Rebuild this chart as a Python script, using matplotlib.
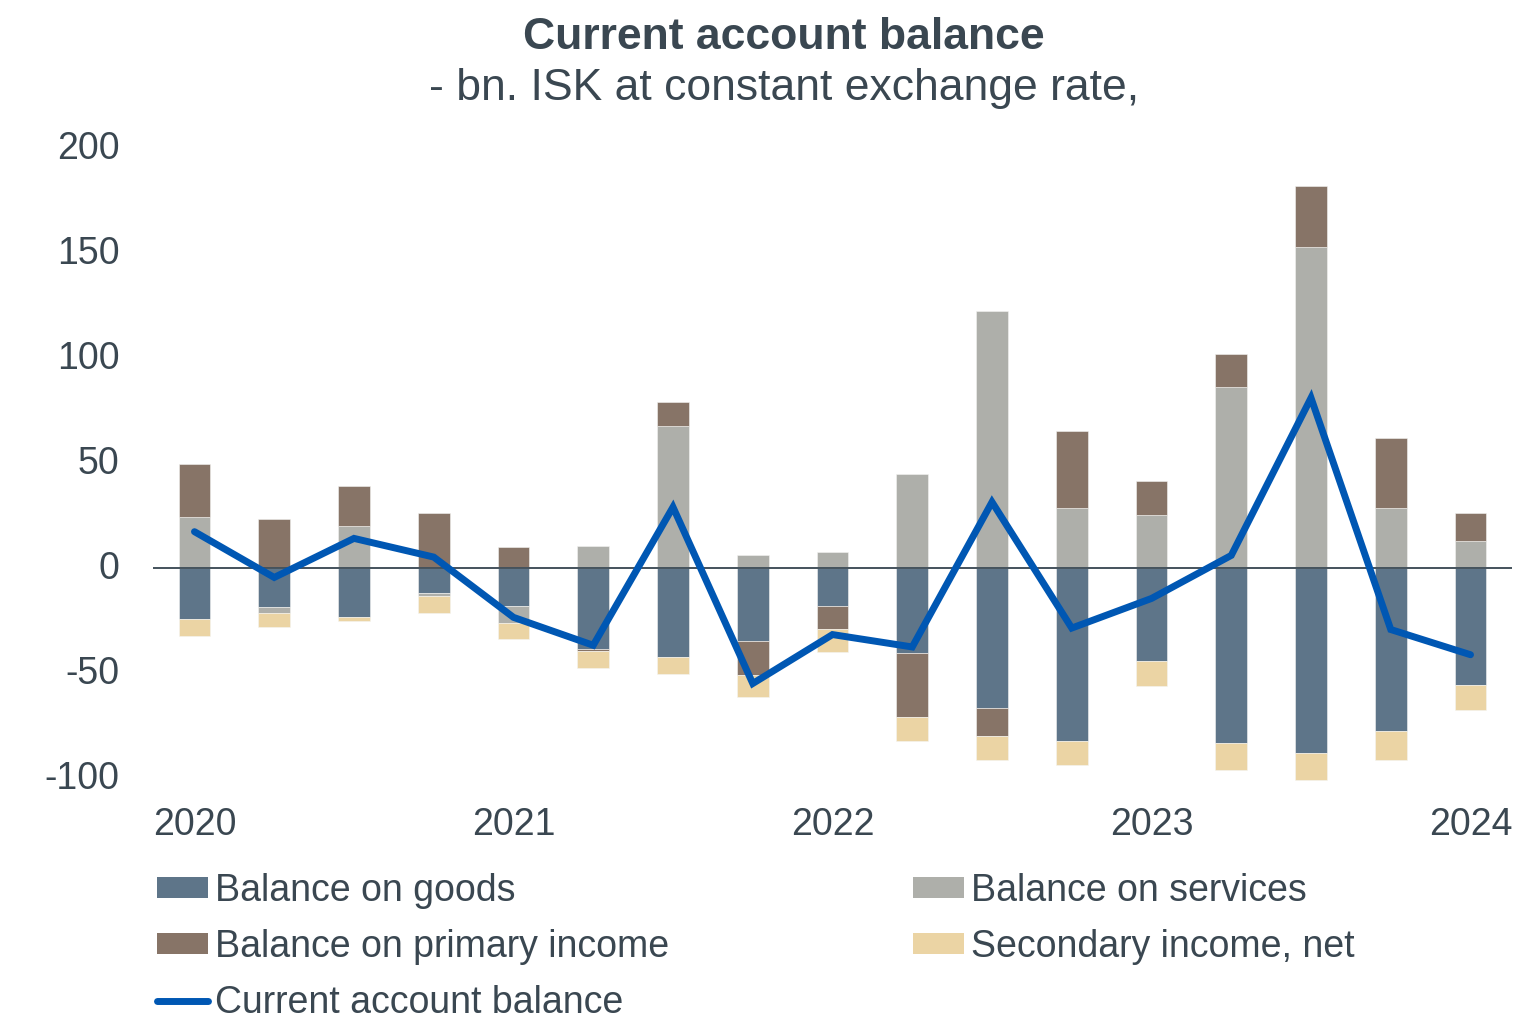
import matplotlib
matplotlib.use("Agg")
import matplotlib.pyplot as plt
import matplotlib.transforms as mtransforms
import numpy as np
from matplotlib.patches import Patch
from matplotlib.lines import Line2D

# Quarterly components of the current account, 2020Q1-2024Q1 (bn. ISK)
quarters = ["2020Q1", "2020Q2", "2020Q3", "2020Q4",
            "2021Q1", "2021Q2", "2021Q3", "2021Q4",
            "2022Q1", "2022Q2", "2022Q3", "2022Q4",
            "2023Q1", "2023Q2", "2023Q3", "2023Q4",
            "2024Q1"]
goods = [-24.3, -18.4, -23.3, -12.1, -18.1, -38.4, -42.4, -34.9, -18.1,
         -40.6, -66.8, -82.2, -44.2, -83.4, -87.9, -77.7, -55.8]
services = [24.4, -2.9, 20.0, -1.1, -7.9, 10.6, 67.8, 6.2, 7.8,
            44.8, 122.5, 28.4, 25.1, 86.4, 153.0, 28.5, 13.0]
primary_income = [25.0, 23.3, 18.9, 26.2, 10.2, -1.0, 11.1, -16.1, -11.1,
                  -30.2, -13.2, 36.8, 16.2, 15.7, 28.9, 33.6, 13.2]
secondary_income = [-7.9, -7.0, -1.9, -8.2, -8.0, -8.1, -7.9, -10.3, -10.6,
                    -11.4, -11.4, -11.5, -12.0, -12.6, -12.9, -13.6, -11.7]
current_account = [17.3, -4.5, 14.1, 5.2, -23.5, -36.8, 29.0, -55.0, -31.7,
                   -37.6, 31.4, -28.6, -14.5, 6.0, 81.0, -29.3, -41.3]
year_labels = ["2020", "2021", "2022", "2023", "2024"]

TEXT = "#3a4751"
colors = {
    "goods": "#5e7589",
    "services": "#aeafaa",
    "primary": "#877467",
    "secondary": "#ebd4a4",
    "line": "#0057b3",
}

plt.rcParams["font.family"] = ["Liberation Sans", "DejaVu Sans"]

fig = plt.figure(figsize=(15.33, 10.26), dpi=100)
ax = fig.add_axes([153 / 1533, 1 - 778 / 1026, (1512 - 153) / 1533, 630 / 1026])

x = np.arange(len(quarters))
width = 0.4
pos_base = np.zeros(len(x))
neg_base = np.zeros(len(x))
series = [(goods, colors["goods"]), (services, colors["services"]),
          (primary_income, colors["primary"]), (secondary_income, colors["secondary"])]
for vals, col in series:
    v = np.array(vals, dtype=float)
    bottom = np.where(v >= 0, pos_base, neg_base)
    ax.bar(x, v, width=width, bottom=bottom, color=col,
           edgecolor="#f4f4f2", linewidth=0.4, zorder=2, clip_on=False)
    pos_base = pos_base + np.where(v >= 0, v, 0)
    neg_base = neg_base + np.where(v < 0, v, 0)

ax.axhline(0, color="#44525c", linewidth=1.4, zorder=3)
ax.plot(x, current_account, color=colors["line"], linewidth=5,
        solid_joinstyle="miter", solid_capstyle="round", zorder=4)

ax.set_xlim(-0.52, 16.52)
ax.set_ylim(-100, 200)
ax.set_yticks([-100, -50, 0, 50, 100, 150, 200])
ax.set_yticklabels(["-100", "-50", "0", "50", "100", "150", "200"])
ax.set_xticks([0, 4, 8, 12, 16])
ax.set_xticklabels(year_labels)
ax.tick_params(axis="both", length=0, labelsize=27, labelcolor=TEXT)
ax.tick_params(axis="y", pad=24)
ax.tick_params(axis="x", pad=21)
shift_up = mtransforms.ScaledTranslation(0, 3 / 100, fig.dpi_scale_trans)
for lbl in ax.get_yticklabels():
    lbl.set_transform(lbl.get_transform() + shift_up)
for s in ax.spines.values():
    s.set_visible(False)
ax.set_facecolor("none")

fig.text(784 / 1533, 1 - 49 / 1026, "Current account balance", ha="center",
         va="baseline", fontsize=32, fontweight="bold", color=TEXT)
fig.text(784 / 1533, 1 - 100 / 1026, "- bn. ISK at constant exchange rate,",
         ha="center", va="baseline", fontsize=32, color=TEXT)

handles = [
    Patch(facecolor=colors["goods"], label="Balance on goods"),
    Patch(facecolor=colors["primary"], label="Balance on primary income"),
    Line2D([0], [0], color=colors["line"], linewidth=5, solid_capstyle="round",
           label="Current account balance"),
    Patch(facecolor=colors["services"], label="Balance on services"),
    Patch(facecolor=colors["secondary"], label="Secondary income, net"),
]
leg = fig.legend(handles=handles, loc="upper left", ncol=2,
                 bbox_to_anchor=(157 / 1533, 1 - 873 / 1026),
                 frameon=False, fontsize=27, borderpad=0, borderaxespad=0,
                 handlelength=1.36, handleheight=0.48, handletextpad=0.19,
                 labelspacing=0.53, columnspacing=6.5)
for t in leg.get_texts():
    t.set_color(TEXT)

fig.savefig("out.png", dpi=100, facecolor="white")
